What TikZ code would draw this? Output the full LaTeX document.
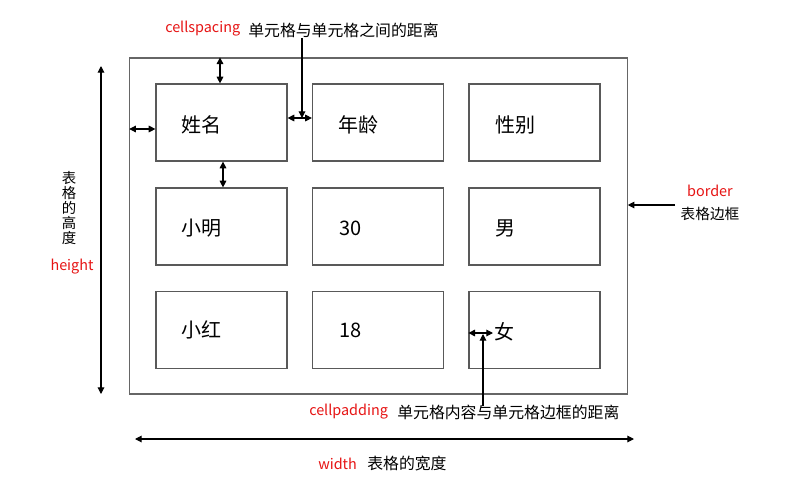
\documentclass[tikz,border=0pt]{standalone}
\usepackage{fontspec}
\setmainfont{Noto Sans CJK SC}
\usetikzlibrary{arrows.meta}
\definecolor{lblred}{RGB}{230,20,20}
\tikzset{
  px/.style={x=0.75pt,y=-0.75pt},
  tbl/.style={draw=black!60,line width=0.9pt,minimum width=373pt,minimum height=252pt,inner sep=0pt},
  cell/.style={draw=black!65,line width=0.9pt,minimum width=98.25pt,minimum height=57.75pt,inner sep=0pt},
  celltext/.style={anchor=west,inner sep=0pt,font=\fontsize{15pt}{17pt}\selectfont},
  redlbl/.style={text=lblred,inner sep=0pt,font=\fontsize{10.8pt}{12pt}\selectfont},
  blklbl/.style={inner sep=0pt,font=\fontsize{11.9pt}{13pt}\selectfont},
  dbl/.style={{Triangle[length=5pt,width=5pt]}-{Triangle[length=5pt,width=5pt]},line width=0.8pt},
  sgl/.style={-{Triangle[length=5pt,width=5pt]},line width=0.8pt},
}
\begin{document}
\begin{tikzpicture}[px]
\useasboundingbox (0,0) rectangle (790,494);
% table
\node[tbl] (T) at (378.5,226) {};
% cells
\node[cell] (c11) at (221.5,122.5) {};
\node[cell] (c12) at (378,122.5) {};
\node[cell] (c13) at (534.5,122.5) {};
\node[cell] (c21) at (221.5,226.5) {};
\node[cell] (c22) at (378,226.5) {};
\node[cell] (c23) at (534.5,226.5) {};
\node[cell] (c31) at (221.5,330) {};
\node[cell] (c32) at (378,330) {};
\node[cell] (c33) at (534.5,330) {};
% cell texts
\node[celltext] (t11) at (181,125) {姓名};
\node[celltext] (t12) at (338,125) {年龄};
\node[celltext] (t13) at (495,125) {性别};
\node[celltext] (t21) at (181,228) {小明};
\node[celltext] (t22) at (339,228) {30};
\node[celltext] (t23) at (495,228) {男};
\node[celltext] (t31) at (181,330) {小红};
\node[celltext] (t32) at (339,330) {18};
\node[celltext] (t33) at (494,332) {女};
% labels
\node[redlbl,anchor=west] (lcs) at (165,29) {cellspacing};
\node[blklbl,anchor=west] (lcs2) at (248,30) {单元格与单元格之间的距离};
\node[redlbl,anchor=west] (lcp) at (309,412) {cellpadding};
\node[blklbl,anchor=west] (lcp2) at (397,412) {单元格内容与单元格边框的距离};
\node[redlbl,anchor=west] (lw) at (318,464) {width};
\node[blklbl,anchor=west] (lw2) at (367,464) {表格的宽度};
\node[redlbl] (lh) at (72,267) {height};
\node[blklbl,align=center,font=\fontsize{10.8pt}{11.25pt}\selectfont] (lh2) at (69,208) {表\\格\\的\\高\\度};
\node[redlbl] (lb) at (710,191) {border};
\node[blklbl,font=\fontsize{11pt}{13pt}\selectfont] (lb2) at (710,214) {表格边框};
% coordinates
\coordinate (a1s) at (c11.north -| 220,0);
\coordinate (a1e) at (T.north -| 220,0);
\coordinate (a2s) at (T.west |- 0,129);
\coordinate (a2e) at (c11.west |- 0,129);
\coordinate (a3s) at (c11.east |- 0,118);
\coordinate (a3e) at (c12.west |- 0,118);
\coordinate (a4s) at (c11.south -| 223,0);
\coordinate (a4e) at (c21.north -| 223,0);
\coordinate (p1s) at (302,38);
\coordinate (p1e) at (302,118);
\coordinate (a5s) at (c33.west |- 0,333);
\coordinate (a5e) at (493,333);
\coordinate (p2s) at (483,406);
\coordinate (p2e) at (483,334);
\coordinate (ws) at (135,439);
\coordinate (we) at (634,439);
\coordinate (hs) at (101,66);
\coordinate (he) at (101,394);
\coordinate (bs) at (675,205);
\coordinate (be) at (T.east |- 0,205);
% arrows
\draw[dbl] (a1e) -- (a1s);
\draw[dbl] (a2s) -- (a2e);
\draw[dbl] (a3s) -- (a3e);
\draw[dbl] (a4s) -- (a4e);
\draw[sgl] (p1s) -- (p1e);
\draw[dbl] (a5s) -- (a5e);
\draw[sgl] (p2s) -- (p2e);
\draw[dbl] (ws) -- (we);
\draw[dbl] (hs) -- (he);
\draw[sgl] (bs) -- (be);
\end{tikzpicture}
\end{document}
